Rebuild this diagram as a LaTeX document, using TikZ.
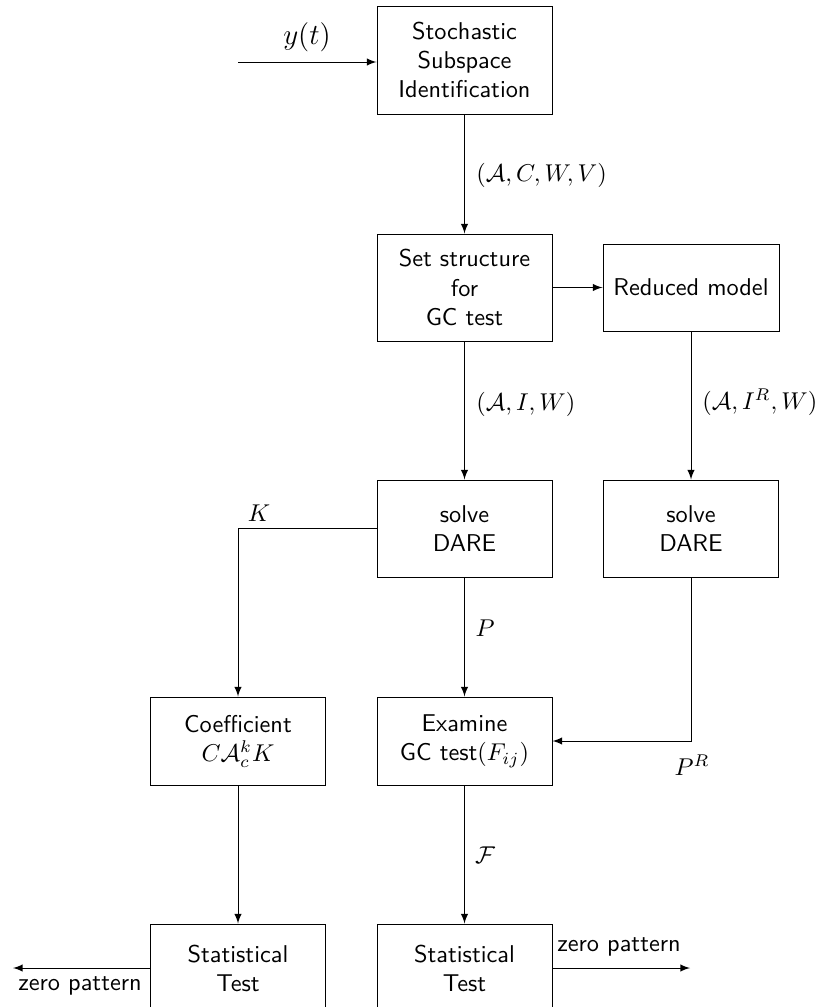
\documentclass[tikz,border=0pt]{standalone}
\usetikzlibrary{arrows}
\newcommand\pxu{0.4115pt}
\begin{document}
\begin{tikzpicture}[x=0.4115pt,y=-0.4115pt,
  blk/.style={draw,line width=0.4pt,align=center,font=\sffamily,inner sep=0pt,minimum width=175*\pxu},
  arr/.style={->,>=latex,line width=0.4pt},
  lab/.style={inner sep=0pt}]
\useasboundingbox (0,0) rectangle (818,1007);
\node[blk,minimum height=108*\pxu] (ssi) at (464.5,60) {Stochastic\\Subspace\\Identification};
\node[blk,minimum height=107*\pxu] (set) at (464.5,287.5) {Set structure\\for\\GC test};
\node[blk,minimum height=87*\pxu,minimum width=176*\pxu] (red) at (691,287.5) {Reduced model};
\node[blk,minimum height=97*\pxu] (dare1) at (464.5,528.5) {solve\\DARE};
\node[blk,minimum height=97*\pxu] (dare2) at (691,528.5) {solve\\DARE};
\node[blk,minimum height=88*\pxu] (coef) at (238,741) {Coefficient\\$C\mathcal{A}_c^kK$};
\node[blk,minimum height=88*\pxu] (exam) at (464.5,741) {Examine\\GC test$(F_{ij})$};
\node[blk,minimum height=88*\pxu] (stat1) at (238,968) {Statistical\\Test};
\node[blk,minimum height=88*\pxu] (stat2) at (464.5,968) {Statistical\\Test};
\coordinate (in) at (238,62);
\coordinate (out1) at (13,968);
\coordinate (out2) at (690,968);
% connectors
\draw[arr] (in) -- (in -| ssi.west);
\draw[arr] (ssi.south) -- (set.north);
\draw[arr] (set.east) -- (red.west);
\draw[arr] (set.south) -- (dare1.north);
\draw[arr] (red.south) -- (dare2.north);
\draw[arr] (dare1.west) -| (coef.north);
\draw[arr] (dare1.south) -- (exam.north);
\draw[arr] (dare2.south) |- (exam.east);
\draw[arr] (coef.south) -- (stat1.north);
\draw[arr] (exam.south) -- (stat2.north);
\draw[arr] (stat1.west) -- (out1);
\draw[arr] (stat2.east) -- (out2);
% labels
\node[lab,font=\large] (ly) at (307,37) {$y(t)$};
\node[lab,anchor=west] (l1) at (476,175) {$(\mathcal{A},C,W,V)$};
\node[lab,anchor=west] (l2) at (476,404) {$(\mathcal{A},I,W)$};
\node[lab,anchor=west] (l3) at (702,402) {$(\mathcal{A},I^R,W)$};
\node[lab] (lk) at (259,513) {$K$};
\node[lab] (lp) at (485,628) {$P$};
\node[lab] (lpr) at (692,765) {$P^R$};
\node[lab] (lf) at (485,855) {$\mathcal{F}$};
\node[lab,font=\sffamily] (z2) at (619,947) {zero pattern};
\node[lab,font=\sffamily] (z1) at (80,986) {zero pattern};
\end{tikzpicture}
\end{document}
